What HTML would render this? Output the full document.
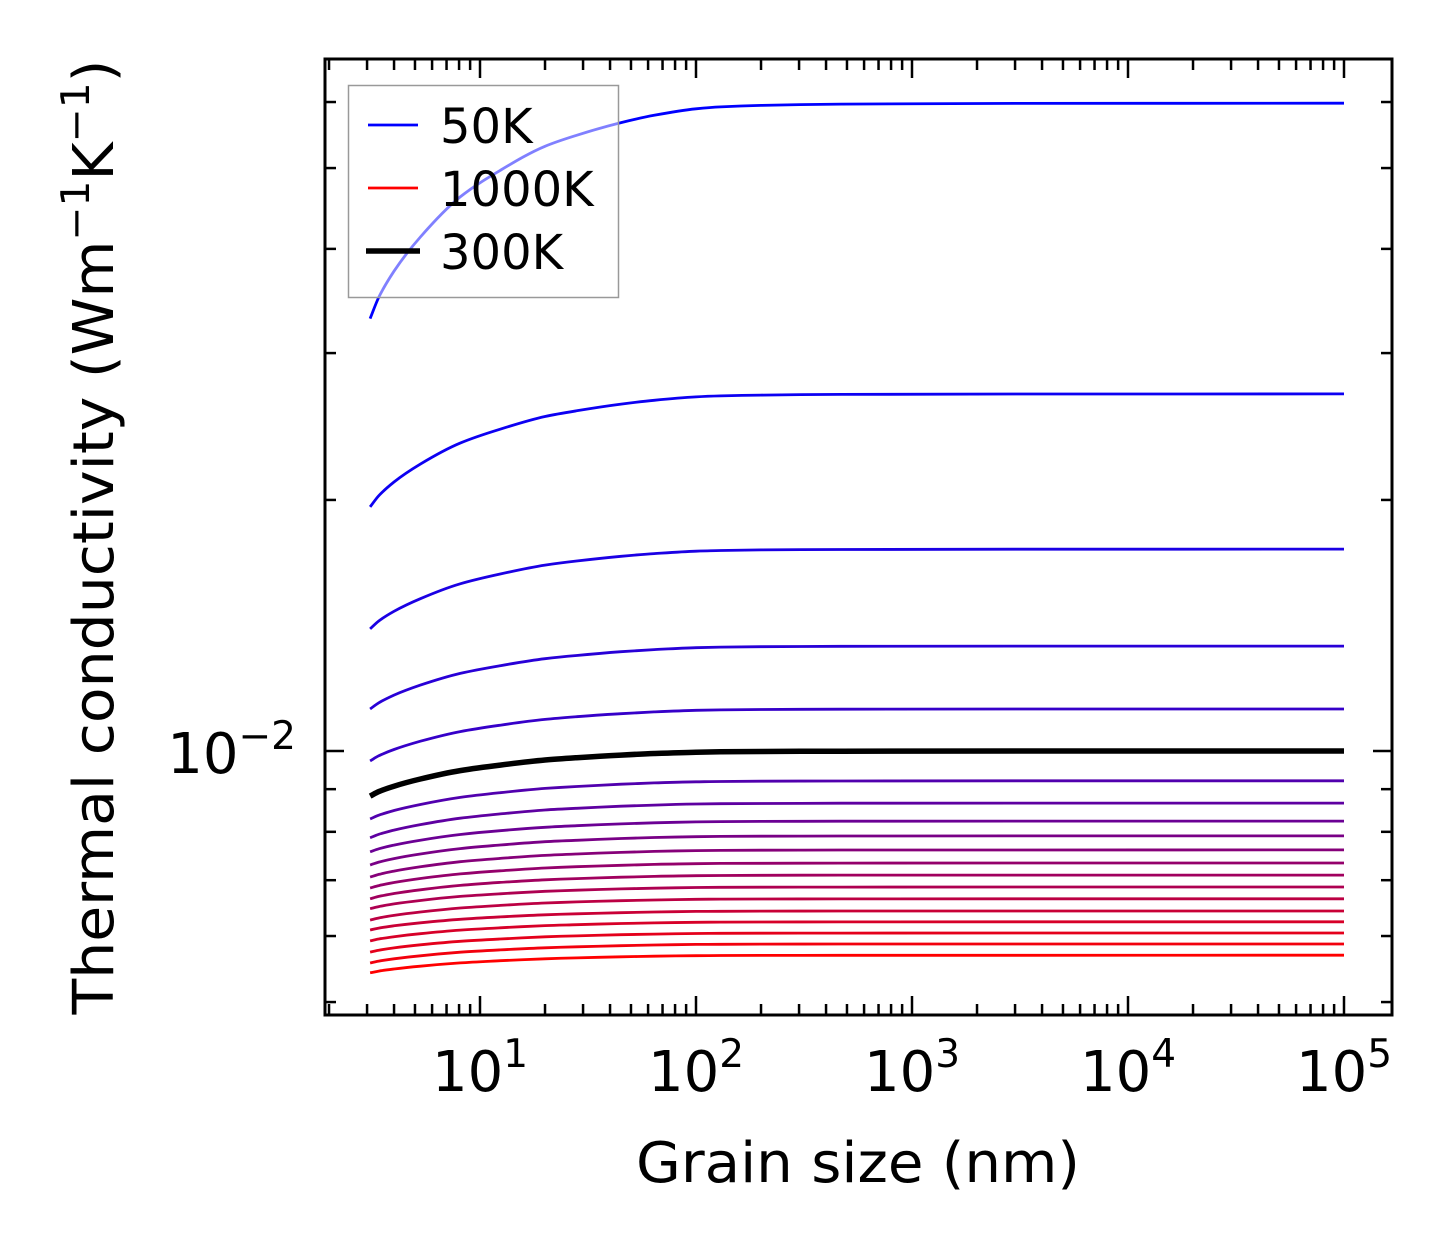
<!DOCTYPE html>
<html><head><meta charset="utf-8"><style>
html,body{margin:0;padding:0;background:#fff;}
svg{display:block;font-family:"DejaVu Sans","Liberation Sans",sans-serif;}
</style></head><body>
<svg id="chart" width="1454" height="1254" viewBox="0 0 1454 1254" xmlns="http://www.w3.org/2000/svg">
<g id="curves"></g>
<g id="axes"></g>
<text x="858" y="1182" font-size="56" text-anchor="middle" textLength="444" lengthAdjust="spacingAndGlyphs">Grain size (nm)</text>
<text transform="translate(113,537) rotate(-90)" font-size="56" text-anchor="middle" textLength="955" lengthAdjust="spacingAndGlyphs">Thermal conductivity (Wm<tspan font-size="39" dy="-24">−1</tspan><tspan dy="24">K</tspan><tspan font-size="39" dy="-24">−1</tspan><tspan dy="24">)</tspan></text>
<g id="legend">
<rect x="348.5" y="85.5" width="270" height="212" fill="#fff" fill-opacity="0.5" stroke="#999" stroke-width="1.5"/>
<line x1="368" y1="125" x2="418" y2="125" stroke="#0000ff" stroke-width="2.8"/>
<text x="440" y="143" font-size="48">50K</text>
<line x1="368" y1="188" x2="418" y2="188" stroke="#ff0000" stroke-width="2.8"/>
<text x="440" y="206" font-size="48">1000K</text>
<line x1="366" y1="251" x2="420" y2="251" stroke="#000" stroke-width="5.5"/>
<text x="440" y="269" font-size="48">300K</text>
</g>
</svg>
<script>
// Data
const temperatures = [50,100,150,200,250,300,350,400,450,500,550,600,650,700,750,800,850,900,950,1000];
const kBulk = [0.0598,0.0268,0.01746,0.01336,0.01123,0.0100,0.00921,0.00866,0.00824,0.00791,0.00761,0.00734,0.00710,0.00687,0.00665,0.00643,0.00624,0.00605,0.00587,0.00569];
const kSmallest = [0.0330,0.01962,0.01401,0.01123,0.00973,0.00883,0.00829,0.00787,0.00757,0.00730,0.00706,0.00685,0.00665,0.00647,0.00627,0.00610,0.00592,0.00574,0.00557,0.00542];
const grainSizes = [3.1,3.4,4,5.3,8.1,12.4,20,28,45,64,100,130,200,470,3000,100000];
const recoveryFraction = [0,0.099,0.22,0.379,0.565,0.688,0.80,0.851,0.91,0.944,0.974,0.983,0.99,0.996,0.999,1];
const xTickExps = [1,2,3,4,5];
const highlightT = 300;

// Axes
const X0 = 325, X1 = 1392, Y0 = 59, Y1 = 1015;
const XDEC = 216, X10 = 480;
const YDEC = 834, Y1em2 = 751;
const sx = v => X10 + (Math.log10(v) - 1) * XDEC;
const sy = v => Y1em2 - (Math.log10(v) + 2) * YDEC;
const NS = "http://www.w3.org/2000/svg";
function mk(tag, attrs, parent){const e=document.createElementNS(NS,tag);for(const k in attrs)e.setAttribute(k,attrs[k]);parent.appendChild(e);return e;}

function smoothPath(pts){
  const n=pts.length, dx=[], m=[], t=[];
  for(let i=0;i<n-1;i++){dx.push(pts[i+1][0]-pts[i][0]); m.push((pts[i+1][1]-pts[i][1])/dx[i]);}
  t[0]=m[0]; t[n-1]=m[n-2];
  for(let i=1;i<n-1;i++){ t[i] = (m[i-1]*m[i]<=0)?0:(3*(dx[i-1]+dx[i]))/((2*dx[i]+dx[i-1])/m[i-1]+(dx[i]+2*dx[i-1])/m[i]); }
  let d='M'+pts[0][0].toFixed(1)+' '+pts[0][1].toFixed(1);
  for(let i=0;i<n-1;i++){
    const h=dx[i]/3;
    d+=' C'+(pts[i][0]+h).toFixed(1)+' '+(pts[i][1]+t[i]*h).toFixed(1)+' '+(pts[i+1][0]-h).toFixed(1)+' '+(pts[i+1][1]-t[i+1]*h).toFixed(1)+' '+pts[i+1][0].toFixed(1)+' '+pts[i+1][1].toFixed(1);
  }
  return d;
}

const curves = document.getElementById('curves');
const order = temperatures.map((t,i)=>i).filter(i=>temperatures[i]!==highlightT).concat(temperatures.map((t,i)=>i).filter(i=>temperatures[i]===highlightT));
order.forEach(i=>{
  const T = temperatures[i];
  const t = (T - temperatures[0])/(temperatures[temperatures.length-1]-temperatures[0]);
  const lo = Math.log10(kSmallest[i]), hi = Math.log10(kBulk[i]);
  const pts = grainSizes.map((g,j)=>[sx(g), sy(Math.pow(10, lo + (hi-lo)*recoveryFraction[j]))]);
  const isHi = T===highlightT;
  const col = isHi ? '#000' : `rgb(${Math.round(255*t)},0,${Math.round(255*(1-t))})`;
  const p = mk('path',{d:smoothPath(pts),fill:'none',stroke:col,'stroke-width':isHi?5.5:2.8,'stroke-linejoin':'round'},curves);
  
  
});

const axes = document.getElementById('axes');
const frame = mk('rect',{x:X0,y:Y0,width:X1-X0,height:Y1-Y0,fill:'none',stroke:'#000','stroke-width':3},axes);



for(let e=0;e<=5;e++){
  for(let m=1;m<=9;m++){
    const v=m*Math.pow(10,e); const x=sx(v);
    if(x<X0+2||x>X1-2) continue;
    const L = m===1?19:11;
    const t1 = mk('line',{x1:x,y1:Y1,x2:x,y2:Y1-L,stroke:'#000','stroke-width':2.5},axes);
    
    
    const t2 = mk('line',{x1:x,y1:Y0,x2:x,y2:Y0+L,stroke:'#000','stroke-width':2.5},axes);
    
    
  }
}
xTickExps.forEach(e=>{
  const x = sx(Math.pow(10,e));
  const tx = mk('text',{x:x,y:1091,'font-size':56,'text-anchor':'middle'},axes);
  
  
  tx.innerHTML = '10<tspan font-size="39" dy="-24">'+e+'</tspan>';
});
[0.005,0.006,0.007,0.008,0.009,0.01,0.02,0.03,0.04,0.05,0.06].forEach(v=>{
  const y = sy(v); const L = v===0.01?19:11;
  const t1 = mk('line',{x1:X0,y1:y,x2:X0+L,y2:y,stroke:'#000','stroke-width':2.5},axes);
  
  
  const t2 = mk('line',{x1:X1,y1:y,x2:X1-L,y2:y,stroke:'#000','stroke-width':2.5},axes);
  
  
});
const yl = mk('text',{x:296,y:773,'font-size':56,'text-anchor':'end'},axes);


yl.innerHTML = '10<tspan font-size="39" dy="-24">−2</tspan>';
</script>
</body></html>
